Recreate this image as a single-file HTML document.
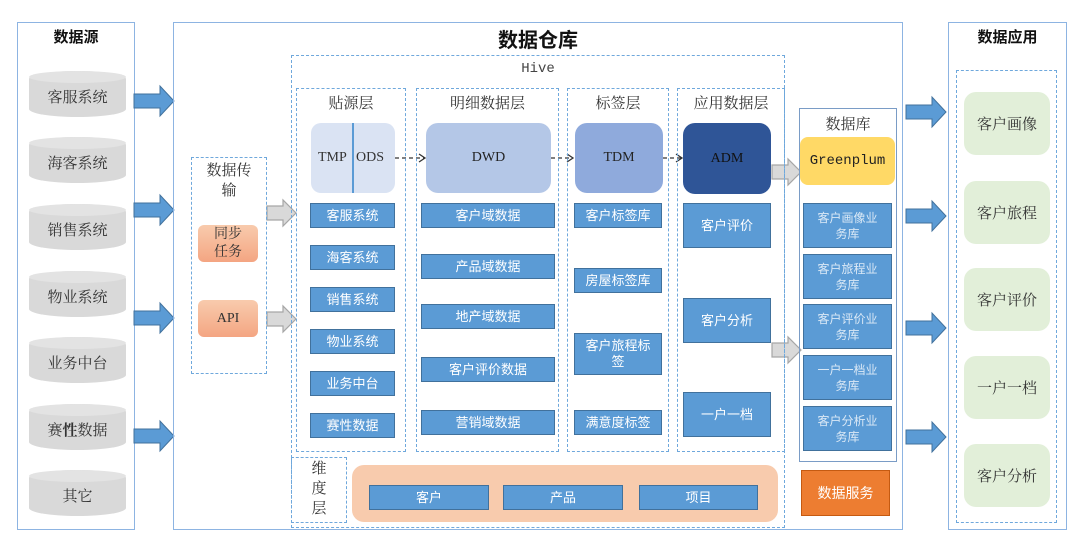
<!DOCTYPE html>
<html><head><meta charset="utf-8"><style>
*{margin:0;padding:0;box-sizing:border-box}
body{width:1080px;height:545px;background:#fff;position:relative;overflow:hidden;font-family:"Liberation Serif","Noto Serif CJK SC","Noto Sans CJK SC",serif;}
.a{position:absolute}
.box{position:absolute;border:1.5px solid #8db4e2}
.dash{position:absolute;border:1.5px dashed #6fa8dc}
.c{display:flex;align-items:center;justify-content:center;text-align:center}
.t{position:absolute;font-size:15px;color:#333;text-align:center}
.bt{font-family:"Liberation Sans","Noto Sans CJK SC",sans-serif;font-weight:bold;color:#111;font-size:15px}
.bl{position:absolute;background:#5b9bd5;border:1.5px solid #41719c;color:#fff;font-size:13px;font-family:"Liberation Sans","Noto Sans CJK SC",sans-serif;display:flex;align-items:center;justify-content:center;text-align:center;line-height:16px}
.cyl{position:absolute;left:29px;width:97px;height:46px;background:#d9d9d9;border-radius:48px/8px;display:flex;align-items:center;justify-content:center;font-size:15px;color:#333;padding-top:4px}
.cyl:before{content:"";position:absolute;left:0;top:0;width:97px;height:12px;border-radius:50%;background:#e3e3e3}
.cyl span{position:relative}
.g{position:absolute;left:964px;width:86px;height:63px;background:#e2efd9;border-radius:12px;display:flex;align-items:center;justify-content:center;font-size:15px;color:#333}
.db{position:absolute;left:803px;width:89px;height:45px;font-size:12px;color:#dbe9f6}
</style></head><body>

<div class="box" style="left:17px;top:22px;width:118px;height:508px"></div>
<div class="t bt" style="left:17px;top:26px;width:118px">数据源</div>
<div class="cyl" style="top:71px"><span>客服系统</span></div>
<div class="cyl" style="top:137px"><span>海客系统</span></div>
<div class="cyl" style="top:204px"><span>销售系统</span></div>
<div class="cyl" style="top:271px"><span>物业系统</span></div>
<div class="cyl" style="top:337px"><span>业务中台</span></div>
<div class="cyl" style="top:404px"><span>赛<b>性</b>数据</span></div>
<div class="cyl" style="top:470px"><span>其它</span></div>

<svg class="a" style="left:0;top:0" width="1080" height="545">
<defs>
<g id="ba"><polygon points="0,-7 26,-7 26,-15 40,0 26,15 26,7 0,7" fill="#5b9bd5" stroke="#41719c" stroke-width="1"/></g>
<g id="ga"><polygon points="0,-7 16,-7 16,-13 29,0 16,13 16,7 0,7" fill="#d9d9d9" stroke="#a6a6a6" stroke-width="1.2"/></g>
</defs>
<use href="#ba" x="134" y="101"/><use href="#ba" x="134" y="210"/><use href="#ba" x="134" y="318"/><use href="#ba" x="134" y="436"/>
<use href="#ba" x="906" y="112"/><use href="#ba" x="906" y="216"/><use href="#ba" x="906" y="328"/><use href="#ba" x="906" y="437"/>
<use href="#ga" x="267" y="213"/><use href="#ga" x="267" y="319"/>
<use href="#ga" x="772" y="172"/><use href="#ga" x="772" y="350"/>
<g stroke="#333" stroke-width="1.3" stroke-dasharray="4,3" fill="none">
<line x1="395" y1="158" x2="424" y2="158"/><line x1="551" y1="158" x2="572" y2="158"/><line x1="663" y1="158" x2="681" y2="158"/>
</g>
<g stroke="#333" stroke-width="1.3" fill="none">
<polyline points="419,154 425,158 419,162"/><polyline points="567,154 573,158 567,162"/><polyline points="676,154 682,158 676,162"/>
</g>
</svg>

<div class="box" style="left:173px;top:22px;width:730px;height:508px"></div>
<div class="t bt" style="left:173px;top:24px;width:730px;font-size:20px">数据仓库</div>

<div class="dash" style="left:191px;top:157px;width:76px;height:217px"></div>
<div class="t" style="left:191px;top:161px;width:76px;line-height:20px">数据传<br>输</div>
<div class="a c" style="left:198px;top:225px;width:60px;height:37px;border-radius:6px;font-size:14px;line-height:18px;color:#333;background:linear-gradient(#f8cbad,#f4a582)">同步<br>任务</div>
<div class="a c" style="left:198px;top:300px;width:60px;height:37px;border-radius:6px;font-size:14px;color:#333;background:linear-gradient(#f8cbad,#f4a582)">API</div>

<div class="dash" style="left:291px;top:55px;width:494px;height:473px"></div>
<div class="t" style="left:291px;top:61px;width:494px;font-family:'Liberation Mono',monospace;font-size:14px;color:#444">Hive</div>

<div class="dash" style="left:296px;top:88px;width:110px;height:364px"></div>
<div class="t" style="left:296px;top:92px;width:110px">贴源层</div>
<div class="a" style="left:311px;top:123px;width:84px;height:70px;background:#dae3f3;border-radius:10px"></div>
<div class="a" style="left:352px;top:123px;width:1.5px;height:70px;background:#5b9bd5"></div>
<div class="t" style="left:318px;top:150px;font-size:14px">TMP</div>
<div class="t" style="left:356px;top:150px;font-size:14px">ODS</div>
<div class="bl" style="left:310px;top:203px;width:85px;height:25px">客服系统</div>
<div class="bl" style="left:310px;top:245px;width:85px;height:25px">海客系统</div>
<div class="bl" style="left:310px;top:287px;width:85px;height:25px">销售系统</div>
<div class="bl" style="left:310px;top:329px;width:85px;height:25px">物业系统</div>
<div class="bl" style="left:310px;top:371px;width:85px;height:25px">业务中台</div>
<div class="bl" style="left:310px;top:413px;width:85px;height:25px">赛性数据</div>

<div class="dash" style="left:416px;top:88px;width:143px;height:364px"></div>
<div class="t" style="left:416px;top:92px;width:143px">明细数据层</div>
<div class="a c" style="left:426px;top:123px;width:125px;height:70px;background:#b4c7e7;border-radius:12px;font-size:14px;color:#222">DWD</div>
<div class="bl" style="left:421px;top:203px;width:134px;height:25px">客户域数据</div>
<div class="bl" style="left:421px;top:254px;width:134px;height:25px">产品域数据</div>
<div class="bl" style="left:421px;top:304px;width:134px;height:25px">地产域数据</div>
<div class="bl" style="left:421px;top:357px;width:134px;height:25px">客户评价数据</div>
<div class="bl" style="left:421px;top:410px;width:134px;height:25px">营销域数据</div>

<div class="dash" style="left:567px;top:88px;width:102px;height:364px"></div>
<div class="t" style="left:567px;top:92px;width:102px">标签层</div>
<div class="a c" style="left:575px;top:123px;width:88px;height:70px;background:#8faadc;border-radius:12px;font-size:14px;color:#222">TDM</div>
<div class="bl" style="left:574px;top:203px;width:88px;height:25px">客户标签库</div>
<div class="bl" style="left:574px;top:268px;width:88px;height:25px">房屋标签库</div>
<div class="bl" style="left:574px;top:333px;width:88px;height:42px">客户旅程标<br>签</div>
<div class="bl" style="left:574px;top:410px;width:88px;height:25px">满意度标签</div>

<div class="dash" style="left:677px;top:88px;width:108px;height:364px"></div>
<div class="t" style="left:677px;top:92px;width:108px">应用数据层</div>
<div class="a c" style="left:683px;top:123px;width:88px;height:71px;background:#2f5597;border-radius:12px;font-size:14px;color:#111">ADM</div>
<div class="bl" style="left:683px;top:203px;width:88px;height:45px">客户评价</div>
<div class="bl" style="left:683px;top:298px;width:88px;height:45px">客户分析</div>
<div class="bl" style="left:683px;top:392px;width:88px;height:45px">一户一档</div>

<div class="dash" style="left:291px;top:457px;width:56px;height:66px"></div>
<div class="t" style="left:291px;top:459px;width:56px;line-height:20px">维<br>度<br>层</div>
<div class="a" style="left:352px;top:465px;width:426px;height:57px;background:#f8cbad;border-radius:12px"></div>
<div class="bl" style="left:369px;top:485px;width:120px;height:25px">客户</div>
<div class="bl" style="left:503px;top:485px;width:120px;height:25px">产品</div>
<div class="bl" style="left:639px;top:485px;width:119px;height:25px">项目</div>

<div class="box" style="left:799px;top:108px;width:98px;height:354px;border-color:#7a9cc6"></div>
<div class="t" style="left:799px;top:113px;width:98px">数据库</div>
<div class="a c" style="left:800px;top:137px;width:95px;height:48px;background:#ffd966;border-radius:8px;font-family:'Liberation Mono',monospace;font-size:14px;color:#222">Greenplum</div>
<div class="bl db" style="top:203px">客户画像业<br>务库</div>
<div class="bl db" style="top:254px">客户旅程业<br>务库</div>
<div class="bl db" style="top:304px">客户评价业<br>务库</div>
<div class="bl db" style="top:355px">一户一档业<br>务库</div>
<div class="bl db" style="top:406px">客户分析业<br>务库</div>
<div class="a c" style="left:801px;top:470px;width:89px;height:46px;background:#ed7d31;border:1px solid #c55a11;color:#fff;font-size:14px;font-family:'Liberation Sans','Noto Sans CJK SC',sans-serif">数据服务</div>

<div class="box" style="left:948px;top:22px;width:119px;height:508px"></div>
<div class="t bt" style="left:948px;top:26px;width:119px">数据应用</div>
<div class="dash" style="left:956px;top:70px;width:101px;height:453px"></div>
<div class="g" style="top:92px">客户画像</div>
<div class="g" style="top:181px">客户旅程</div>
<div class="g" style="top:268px">客户评价</div>
<div class="g" style="top:356px">一户一档</div>
<div class="g" style="top:444px">客户分析</div>
</body></html>
